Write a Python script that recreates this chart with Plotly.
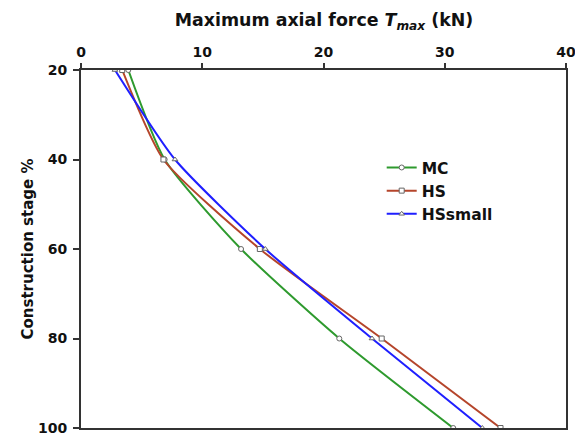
import plotly.graph_objects as go

stage = [20, 40, 60, 80, 100]
mc = [3.9, 6.9, 13.2, 21.3, 30.7]
hs = [3.4, 6.8, 14.75, 24.8, 34.6]
hssmall = [2.8, 7.75, 15.2, 24.0, 33.1]

series = [("MC", mc, "#2e9a2e", "circle"),
          ("HS", hs, "#b5452b", "square"),
          ("HSsmall", hssmall, "#1f1fff", "triangle-up")]

fig = go.Figure()
for name, vals, col, sym in series:
    fig.add_trace(go.Scatter(
        x=vals, y=stage, name=name, mode="lines+markers",
        line=dict(color=col, width=2, shape="spline", smoothing=0.6),
        marker=dict(symbol=sym, size=5, color="white",
                    line=dict(color="#666666", width=1)),
    ))

FAM = "DejaVu Sans, Liberation Sans, sans-serif"
font = dict(family=FAM, size=14, color="#111111", weight="bold")

# page body has an 8px margin, so the figure is sized to fit inside it
fig.update_layout(
    width=575, height=428,
    margin=dict(l=73, r=17, t=62, b=8, autoexpand=False),
    paper_bgcolor="white", plot_bgcolor="white",
    font=font,
    title=dict(text="Maximum axial force <i>T</i><sub><i>max</i></sub> (kN)",
               x=0.5496, xanchor="center", y=0.972, yanchor="middle",
               font=dict(family=FAM, size=17.4, color="#111111", weight="bold")),
    legend=dict(x=0.62, y=0.774, xanchor="left", yanchor="top",
                bgcolor="rgba(0,0,0,0)", font=dict(size=15.5, weight="bold",
                family=FAM, color="#111111"),
                tracegroupgap=0, itemwidth=30),
    showlegend=True,
)
fig.update_xaxes(side="top", range=[0, 40], tickvals=[0, 10, 20, 30, 40],
                 automargin=False, ticklabelstandoff=0,
                 showgrid=False, zeroline=False, showline=True, linecolor="#333333",
                 linewidth=2, mirror=True, ticks="outside", ticklen=5, tickwidth=2,
                 tickcolor="#333333", tickfont=font)
fig.update_yaxes(range=[100, 20], tickvals=[20, 40, 60, 80, 100],
                 automargin=False, ticklabelstandoff=3,
                 showgrid=False, zeroline=False, showline=True, linecolor="#333333",
                 linewidth=2, mirror=True, ticks="outside", ticklen=6, tickwidth=2,
                 tickcolor="#333333", tickfont=font,
                 title=dict(text="Construction stage %", standoff=1,
                            font=dict(family=FAM, size=15, color="#111111", weight="bold")))

fig.write_html("out.html")
